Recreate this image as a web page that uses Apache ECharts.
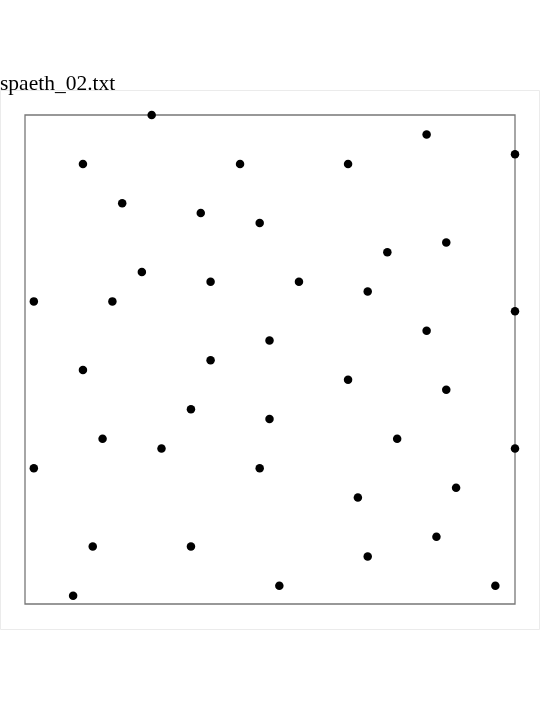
<!DOCTYPE html>
<html>
<head>
<meta charset="utf-8">
<script src="https://cdn.jsdelivr.net/npm/echarts@6/dist/echarts.min.js"></script>
<style>html,body{margin:0;padding:0;background:#fff}#c{width:540px;height:720px}</style>
</head>
<body>
<div id="c"></div>
<script>
const titleText = 'spaeth_02.txt';
const xValues = [13,41,50,6,22,33,10,18,24,37,43,12,19,28,35,1,9,50,41,25,19,6,33,43,17,25,8,14,38,50,1,24,34,44,7,17,42,35,26,48,5];
const yValues = [50,48,46,45,45,45,41,40,39,36,37,34,33,33,32,31,31,30,28,27,25,24,23,22,20,19,17,16,17,16,14,14,11,12,6,6,7,5,2,2,1];
const xRange = [0.1, 50];
const yRange = [0.15, 50];

const points = xValues.map((x, i) => [x, yValues[i]]);
const chart = echarts.init(document.getElementById('c'), null, {renderer: 'canvas'});
chart.setOption({
  animation: false,
  backgroundColor: '#fff',
  title: {
    text: titleText, left: 0, top: 73, padding: 0,
    textStyle: {fontFamily: 'Liberation Serif', fontSize: 21.5, fontWeight: 'normal', color: '#000'}
  },
  graphic: [{
    type: 'rect', shape: {x: 0.5, y: 90.5, width: 539, height: 539},
    style: {fill: 'none', stroke: '#ebebeb', lineWidth: 1}, z: -1
  }],
  grid: {left: 25, top: 115, width: 490, height: 489, show: true, borderColor: '#777', borderWidth: 1.3, backgroundColor: 'transparent'},
  xAxis: {type: 'value', min: xRange[0], max: xRange[1], axisLine: {show: false}, axisTick: {show: false}, axisLabel: {show: false}, splitLine: {show: false}},
  yAxis: {type: 'value', min: yRange[0], max: yRange[1], axisLine: {show: false}, axisTick: {show: false}, axisLabel: {show: false}, splitLine: {show: false}},
  series: [{
    type: 'scatter', data: points, symbol: 'circle', symbolSize: 8.5,
    itemStyle: {color: '#000', opacity: 1}, clip: false
  }]
});
</script>
</body>
</html>
